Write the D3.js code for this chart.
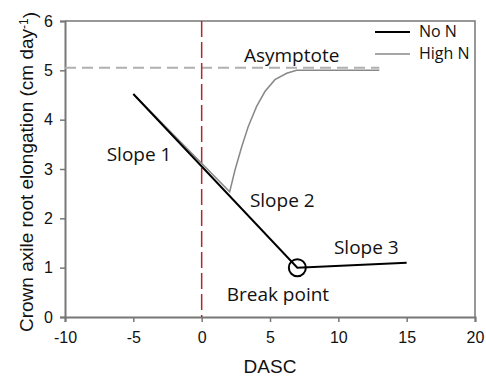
<!DOCTYPE html>
<html>
<head>
<meta charset="utf-8">
<script src="https://cdn.jsdelivr.net/npm/d3@7"></script>
<style>
  body { margin: 0; background: #fff; }
  svg { display: block; }
</style>
</head>
<body>
<div id="chart"></div>
<script>
// values
const xTicks = [-10, -5, 0, 5, 10, 15, 20];
const yTicks = [0, 1, 2, 3, 4, 5, 6];

const noN_x = [-5, 7, 15];
const noN_y = [4.52, 1.0, 1.1];

const highN_x = [-5, 2.05, 2.44, 2.93, 3.41, 4.02, 4.63, 5.36, 6.22, 6.95, 13];
const highN_y = [4.52, 2.54, 2.98, 3.45, 3.86, 4.27, 4.57, 4.81, 4.94, 5.0, 5.0];

const asymptote = { y: 5.05, x0: -10, x1: 13 };
const breakPoint = { x: 7, y: 1.0 };

const labels = [
    { text: "Asymptote", x: 3.09, y: 5.17 },
    { text: "Slope 1", x: -6.95, y: 3.17 },
    { text: "Slope 2", x: 3.53, y: 2.22 },
    { text: "Slope 3", x: 9.68, y: 1.28 },
    { text: "Break point", x: 1.83, y: 0.32 }
];

const legend = [
    { name: "No N", color: "#000", width: 2 },
    { name: "High N", color: "#888", width: 1.5 }
];

const width = 486, height = 376;
const margin = { top: 21, right: 11, bottom: 59, left: 65 };

const svg = d3.select("#chart").append("svg")
    .attr("width", width)
    .attr("height", height);

const x = d3.scaleLinear().domain([-10, 20]).range([margin.left, width - margin.right]);
const y = d3.scaleLinear().domain([0, 6]).range([height - margin.bottom, margin.top]);

const axisColor = "#777";
const tickFont = "16px 'Liberation Sans', Arial, sans-serif";
const noteFont = "'Open Sans', 'Noto Sans', sans-serif";

// frame top and right
svg.append("path")
    .attr("d", `M${x(-10)},${y(6)}H${x(20)}V${y(0)}`)
    .attr("fill", "none")
    .attr("stroke", axisColor)
    .attr("stroke-width", 1.5);

const xAxis = svg.append("g")
    .attr("transform", `translate(0,${y(0)})`)
    .call(d3.axisBottom(x).tickValues(xTicks).tickFormat(d => String(d)).tickSize(5).tickPadding(10));

const yAxis = svg.append("g")
    .attr("transform", `translate(${x(-10)},0)`)
    .call(d3.axisLeft(y).tickValues(yTicks).tickFormat(d => String(d)).tickSize(5).tickPadding(7));

[xAxis, yAxis].forEach(g => {
    g.select(".domain").attr("stroke", axisColor).attr("stroke-width", 2);
    g.selectAll(".tick line").attr("stroke", axisColor).attr("stroke-width", 1.5);
    g.selectAll(".tick text").style("font", tickFont).attr("fill", "#111");
});

// asymptote
svg.append("line")
    .attr("x1", x(asymptote.x0)).attr("x2", x(asymptote.x1))
    .attr("y1", y(asymptote.y)).attr("y2", y(asymptote.y))
    .attr("stroke", "#b0b0b0")
    .attr("stroke-width", 2)
    .attr("stroke-dasharray", "11,6");

// vertical line at DASC = 0
svg.append("line")
    .attr("x1", x(0)).attr("x2", x(0))
    .attr("y1", y(6)).attr("y2", y(0))
    .attr("stroke", "#b3262e")
    .attr("stroke-width", 1.5)
    .attr("stroke-dasharray", "16,5");

const line = d3.line().x(d => x(d[0])).y(d => y(d[1]));

svg.append("path")
    .datum(d3.zip(highN_x, highN_y))
    .attr("d", line)
    .attr("fill", "none")
    .attr("stroke", legend[1].color)
    .attr("stroke-width", legend[1].width);

svg.append("path")
    .datum(d3.zip(noN_x, noN_y))
    .attr("d", line)
    .attr("fill", "none")
    .attr("stroke", legend[0].color)
    .attr("stroke-width", legend[0].width);

svg.append("circle")
    .attr("cx", x(breakPoint.x))
    .attr("cy", y(breakPoint.y))
    .attr("r", 8.5)
    .attr("fill", "none")
    .attr("stroke", "#000")
    .attr("stroke-width", 2);

svg.selectAll("text.note")
    .data(labels)
    .join("text")
    .attr("class", "note")
    .attr("x", d => x(d.x))
    .attr("y", d => y(d.y))
    .style("font-family", noteFont)
    .style("font-size", "19px")
    .attr("fill", "#111")
    .text(d => d.text);

// legend
const lg = svg.append("g")
    .selectAll("g")
    .data(legend)
    .join("g")
    .attr("transform", (d, i) => `translate(375,${32 + i * 22})`);

lg.append("line")
    .attr("x1", 0).attr("x2", 35)
    .attr("stroke", d => d.color)
    .attr("stroke-width", d => d.width);

lg.append("text")
    .attr("x", 44)
    .attr("dy", "0.33em")
    .style("font-family", noteFont)
    .style("font-size", "16px")
    .attr("fill", "#111")
    .text(d => d.name);

// axis titles
svg.append("text")
    .attr("x", x(5))
    .attr("y", 373)
    .attr("text-anchor", "middle")
    .style("font", "19px 'Liberation Sans', Arial, sans-serif")
    .attr("fill", "#111")
    .text("DASC");

const yt = svg.append("text")
    .attr("transform", "translate(33,172) rotate(-90)")
    .attr("text-anchor", "middle")
    .style("font", "19px 'Liberation Sans', Arial, sans-serif")
    .attr("fill", "#111");
yt.append("tspan").text("Crown axile root elongation (cm day");
yt.append("tspan").attr("dy", "-0.45em").style("font-size", "12px").text("-1");
yt.append("tspan").attr("dy", "0.45em").text(")");
</script>
</body>
</html>
